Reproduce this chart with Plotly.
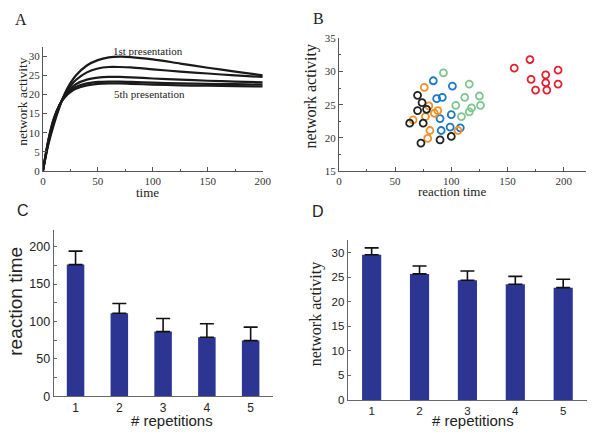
import plotly.graph_objects as go

# ---------------- Data ----------------
# Panel A: network activity over time for 5 presentations
time_pts = [0, 5, 10, 15, 20, 25, 30, 40, 50, 60, 70, 80, 100, 125, 150, 175, 200]
act_p1 = [0, 7.0, 12.2, 16.6, 20.3, 23.0, 25.0, 27.6, 29.0, 29.7, 29.9, 29.8, 29.2, 28.1, 27.0, 26.0, 25.0]
act_p2 = [0, 7.4, 12.8, 17.0, 20.0, 22.2, 23.8, 25.8, 26.8, 27.2, 27.2, 27.1, 26.6, 26.0, 25.5, 25.0, 24.6]
act_p3 = [0, 7.8, 13.3, 17.2, 19.8, 21.5, 22.7, 23.9, 24.4, 24.6, 24.6, 24.5, 24.2, 23.9, 23.6, 23.4, 23.2]
act_p4 = [0, 8.0, 13.6, 17.2, 19.5, 21.0, 22.0, 22.9, 23.3, 23.4, 23.4, 23.3, 23.1, 22.9, 22.8, 22.7, 22.6]
act_p5 = [0, 8.2, 13.8, 17.2, 19.3, 20.6, 21.5, 22.4, 22.8, 22.9, 22.9, 22.8, 22.6, 22.4, 22.3, 22.2, 22.1]

# Panel B: reaction time vs network activity, per repetition group
red_rt = [156, 170, 195, 171, 184, 184, 195, 175, 185]
red_act = [30.5, 31.8, 30.2, 28.8, 29.5, 28.3, 28.1, 27.2, 27.2]
green_rt = [93, 116, 112, 125, 104, 126, 118, 116, 109]
green_act = [29.8, 28.1, 26.1, 26.3, 24.9, 24.9, 24.5, 23.9, 23.2]
blue_rt = [84, 101, 87, 92, 90, 100, 91, 99, 108]
blue_act = [28.6, 27.8, 25.9, 26.1, 22.9, 23.5, 21.1, 21.6, 21.5]
orange_rt = [76, 80, 88, 85, 77, 66, 81, 79, 106]
orange_act = [27.6, 24.8, 24.1, 23.7, 23.2, 22.7, 21.1, 19.9, 21.1]
black_rt = [70, 74, 70, 78, 63, 75, 73, 90, 100]
black_act = [26.4, 25.3, 24.1, 24.3, 22.2, 22.2, 19.2, 19.7, 20.2]

# Panels C and D
repetitions = [1, 2, 3, 4, 5]
rt_mean = [176, 111, 86.5, 79, 74.5]
rt_err = [18, 13, 17.5, 18, 18]
na_mean = [29.6, 25.7, 24.4, 23.6, 22.9]
na_err = [1.4, 1.6, 1.9, 1.6, 1.7]

W, H = 603, 439
def px(x):
    return x / W
def py(y):
    return 1 - y / H

SERIF = "Liberation Serif, Times New Roman, serif"
SANS = "Liberation Sans, Arial, sans-serif"
BAR_COLOR = "#2d3593"

fig = go.Figure()

# Panel A curves
for vals in [act_p1, act_p2, act_p3, act_p4, act_p5]:
    fig.add_trace(go.Scatter(x=time_pts, y=vals, mode="lines",
                             line=dict(color="#1a1a1a", width=2.2, shape="spline", smoothing=0.8),
                             xaxis="x", yaxis="y", showlegend=False, hoverinfo="skip"))

# Panel B scatter
groups = [(red_rt, red_act, "#e3202b"), (green_rt, green_act, "#7fc68e"),
          (blue_rt, blue_act, "#1c78c4"), (orange_rt, orange_act, "#f0922a"),
          (black_rt, black_act, "#222222")]
for xs, ys, col in groups:
    fig.add_trace(go.Scatter(x=xs, y=ys, mode="markers",
                             marker=dict(symbol="circle-open", size=7, color=col, line=dict(width=1.8, color=col)),
                             xaxis="x2", yaxis="y2", showlegend=False))

# Panel C bars
fig.add_trace(go.Bar(x=repetitions, y=rt_mean, width=0.4, marker=dict(color=BAR_COLOR, line=dict(width=0)),
                     error_y=dict(type="data", symmetric=False, array=rt_err, arrayminus=[0]*5,
                                  color="#111111", thickness=1.6, width=7),
                     xaxis="x3", yaxis="y3", showlegend=False))
# Panel D bars
fig.add_trace(go.Bar(x=repetitions, y=na_mean, width=0.4, marker=dict(color=BAR_COLOR, line=dict(width=0)),
                     error_y=dict(type="data", symmetric=False, array=na_err, arrayminus=[0]*5,
                                  color="#111111", thickness=1.6, width=7),
                     xaxis="x4", yaxis="y4", showlegend=False))

axis_common = dict(showgrid=False, zeroline=False, showline=True, linewidth=1, mirror=False)

fig.update_layout(
    width=W, height=H, margin=dict(l=0, r=0, t=0, b=0),
    paper_bgcolor="white", plot_bgcolor="white",
    showlegend=False,
    xaxis=dict(**axis_common, domain=[px(40.7), px(265)], range=[0, 200], anchor="y",
               tickvals=[0, 50, 100, 150, 200], ticks="inside", ticklen=4, linecolor="#555",
               tickcolor="#555", tickfont=dict(family=SERIF, size=11, color="#333"),
               minor=dict(tickvals=[25, 75, 125, 175], ticks="inside", ticklen=2, tickcolor="#555")),
    yaxis=dict(**axis_common, domain=[py(170), py(42)], range=[0, 32.5], anchor="x",
               tickvals=[0, 5, 10, 15, 20, 25, 30], ticks="inside", ticklen=4, linecolor="#555",
               tickcolor="#555", tickfont=dict(family=SERIF, size=11, color="#333")),
    xaxis2=dict(**axis_common, domain=[px(342.7), px(595)], range=[0, 220], anchor="y2",
                tickvals=[0, 50, 100, 150, 200], ticks="inside", ticklen=4, linecolor="#555",
                tickcolor="#555", tickfont=dict(family=SERIF, size=11, color="#333"),
                minor=dict(tickvals=[25, 75, 125, 175], ticks="inside", ticklen=2, tickcolor="#555")),
    yaxis2=dict(**axis_common, domain=[py(170), py(33.3)], range=[15, 35], anchor="x2",
                tickvals=[15, 20, 25, 30, 35], ticks="inside", ticklen=4, linecolor="#555",
                tickcolor="#555", tickfont=dict(family=SERIF, size=11, color="#333"),
                minor=dict(tickvals=[17.5, 22.5, 27.5, 32.5], ticks="inside", ticklen=2, tickcolor="#555")),
    xaxis3=dict(**axis_common, domain=[px(51.7), px(275)], range=[0.5, 5.5], anchor="y3",
                tickvals=repetitions, ticks="", linecolor="#666",
                tickfont=dict(family=SANS, size=12, color="#222")),
    yaxis3=dict(**axis_common, domain=[py(402.3), py(231)], range=[0, 222], anchor="x3",
                tickvals=[0, 50, 100, 150, 200], ticks="inside", ticklen=3, linecolor="#666",
                tickcolor="#666", tickfont=dict(family=SANS, size=12.5, color="#222"),
                minor=dict(tickvals=[25, 75, 125, 175], ticks="inside", ticklen=3, tickcolor="#666")),
    xaxis4=dict(**axis_common, domain=[px(351.7), px(596)], range=[0.5, 5.5], anchor="y4",
                tickvals=repetitions, ticks="", linecolor="#666",
                tickfont=dict(family=SANS, size=11.5, color="#222")),
    yaxis4=dict(**axis_common, domain=[py(406), py(240.7)], range=[0, 32.7], anchor="x4",
                tickvals=[0, 5, 10, 15, 20, 25, 30], ticks="inside", ticklen=3, linecolor="#666",
                tickcolor="#666", tickfont=dict(family=SANS, size=11.5, color="#222")),
)

def ann(text, x, y, size, family, angle=0, xref="paper", yref="paper", color="#222"):
    fig.add_annotation(text=text, x=x, y=y, xref=xref, yref=yref, showarrow=False,
                       xanchor="center", yanchor="middle", textangle=angle,
                       font=dict(family=family, size=size, color=color))

# Panel letters
ann("A", px(18), py(14), 16, SERIF)
ann("B", px(322), py(13), 16, SERIF)
ann("C", px(20), py(211), 16, SANS)
ann("D", px(321), py(212), 16, SANS)

# Panel A text
ann("1st presentation", 95.7, 31.5, 11, SERIF, xref="x", yref="y")
ann("5th presentation", 97.4, 20.1, 11, SERIF, xref="x", yref="y")
ann("network activity", px(19), py(99), 13.5, SERIF, angle=-90)
ann("time", px(147), py(192), 13, SERIF)

# Panel B text
ann("network activity", px(314.5), py(93), 16, SERIF, angle=-90)
ann("reaction time", px(458), py(191.5), 13, SERIF)

# Panel C text
ann("reaction time", px(13), py(304), 19, SANS, angle=-90)
ann("# repetitions", px(172), py(427), 15, SANS)

# Panel D text
ann("network activity", px(319), py(318), 16, SERIF, angle=-90)
ann("# repetitions", px(480), py(427), 15, SANS)

fig.write_html("out.html", config={"displayModeBar": False},
               post_script="document.body.style.margin='0';document.body.style.overflow='hidden';"
                           "document.documentElement.style.overflow='hidden';")
